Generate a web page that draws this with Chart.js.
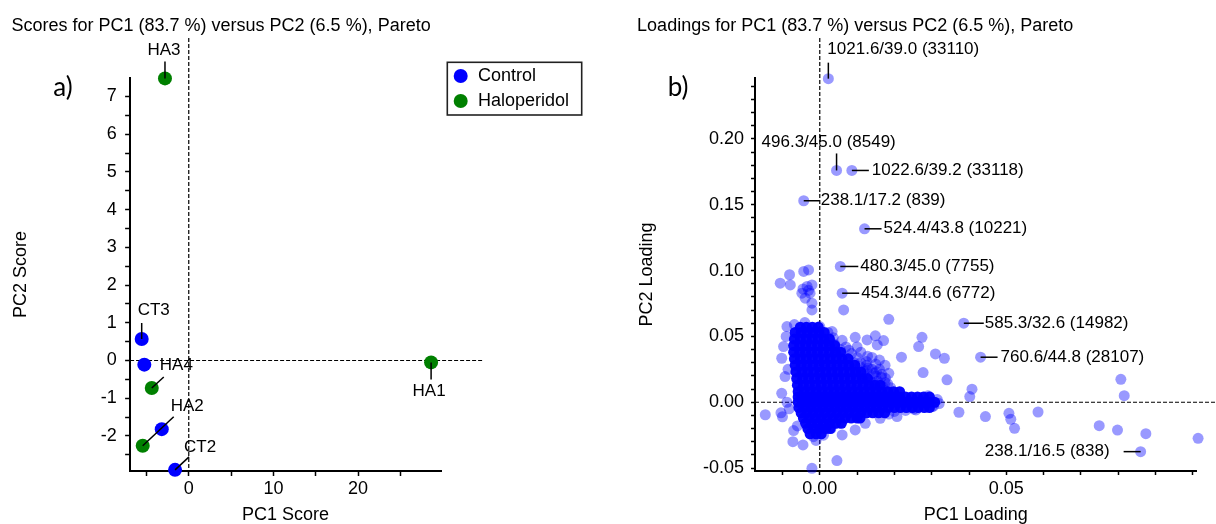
<!DOCTYPE html>
<html>
<head>
<meta charset="utf-8">
<script src="https://cdn.jsdelivr.net/npm/chart.js@4.4.1/dist/chart.umd.min.js"></script>
<style>
  html, body { margin: 0; padding: 0; background: #fff; }
  #wrap { position: relative; width: 1216px; height: 524px; overflow: hidden; background: #fff; }
  canvas { position: absolute; top: 0; }
  #scores { left: 0; }
  #loadings { left: 608px; }
</style>
</head>
<body>
<div id="wrap">
  <canvas id="scores" width="608" height="524"></canvas>
  <canvas id="loadings" width="608" height="524"></canvas>
</div>
<script>
// === Scores (panel a) ===
var controlNames = ['CT3', '', '', 'CT2'];
var controlPC1 = [-5.56, -5.25, -3.19, -1.62];
var controlPC2 = [0.57, -0.11, -1.82, -2.90];

var haloNames = ['HA3', 'HA4', 'HA2', 'HA1'];
var haloPC1 = [-2.81, -4.37, -5.44, 28.63];
var haloPC2 = [7.48, -0.73, -2.26, -0.05];

var scoreXTicks = [-5, 0, 5, 10, 15, 20, 25];
var scoreXLabels = [0, 10, 20];
var scoreYTicks = [-2.5, -2, -1.5, -1, -0.5, 0, 0.5, 1, 1.5, 2, 2.5, 3, 3.5, 4, 4.5, 5, 5.5, 6, 6.5, 7];
var scoreYLabels = [-2, -1, 0, 1, 2, 3, 4, 5, 6, 7];

// === Loadings (panel b) ===
var loadLabelText = ['1021.6/39.0 (33110)', '496.3/45.0 (8549)', '1022.6/39.2 (33118)', '238.1/17.2 (839)',
  '524.4/43.8 (10221)', '480.3/45.0 (7755)', '454.3/44.6 (6772)', '585.3/32.6 (14982)',
  '760.6/44.8 (28107)', '238.1/16.5 (838)'];
var loadLabelX = [0.0023, 0.0045, 0.0086, -0.0043, 0.0120, 0.0055, 0.0060, 0.0386, 0.0431, 0.0860];
var loadLabelY = [0.2457, 0.1760, 0.1760, 0.1530, 0.1317, 0.1031, 0.0828, 0.0600, 0.0342, -0.0375];

// scattered loadings around the dense core
var sparseLoadings = [
  [-0.0081, 0.0968], [-0.0106, 0.0904], [-0.0079, 0.0891], [-0.0043, 0.0993], [-0.0030, 0.1005],
  [-0.0034, 0.0879], [-0.0021, 0.0891], [-0.0048, 0.0828], [-0.0026, 0.0828], [-0.0039, 0.0790],
  [-0.0021, 0.0752], [-0.0021, 0.0701], [-0.0030, 0.0850], [-0.0045, 0.0860],
  [0.0064, 0.0701], [0.0185, 0.0630],
  [-0.0088, 0.0575], [-0.0068, 0.0590], [-0.0040, 0.0605], [0.0000, 0.0575], [0.0022, 0.0530],
  [0.0036, 0.0490], [0.0033, 0.0537], [0.0040, 0.0440], [0.0055, 0.0400],
  [0.0085, 0.0370], [0.0100, 0.0340], [0.0110, 0.0380], [0.0125, 0.0310], [0.0140, 0.0340],
  [0.0150, 0.0290], [0.0160, 0.0250], [0.0130, 0.0260], [0.0145, 0.0220], [0.0165, 0.0190],
  [0.0175, 0.0150], [0.0155, 0.0160], [0.0120, 0.0200], [0.0135, 0.0170], [0.0175, 0.0280],
  [0.0185, 0.0220], [0.0100, 0.0420], [0.0070, 0.0420], [0.0060, 0.0470],
  [0.0092, 0.0300], [0.0108, 0.0270], [0.0118, 0.0235], [0.0150, 0.0200], [0.0160, 0.0320],
  [0.0128, 0.0350], [0.0168, 0.0120], [0.0140, 0.0130], [0.0078, 0.0395],
  [0.0110, 0.0300], [0.0125, 0.0280], [0.0140, 0.0250], [0.0152, 0.0232], [0.0166, 0.0212],
  [0.0176, 0.0182], [0.0182, 0.0140], [0.0142, 0.0152], [0.0126, 0.0242], [0.0190, 0.0110],
  [0.0200, -0.0070], [0.0230, -0.0062], [0.0258, -0.0058], [0.0185, -0.0090],
  [0.0095, 0.0493], [0.0127, 0.0473], [0.0149, 0.0504], [0.0171, 0.0468], [0.0154, 0.0435],
  [0.0274, 0.0493], [0.0265, 0.0423], [0.0310, 0.0367], [0.0334, 0.0334], [0.0219, 0.0342],
  [0.0277, 0.0225], [0.0341, 0.0170], [0.0408, 0.0099], [0.0402, 0.0043], [0.0373, -0.0076],
  [0.0444, -0.0109],
  [0.0807, 0.0174], [0.0816, 0.0050], [0.0507, -0.0084], [0.0512, -0.0129], [0.0522, -0.0198],
  [0.0585, -0.0074], [0.0749, -0.0178], [0.0798, -0.0211], [0.0874, -0.0239], [0.1014, -0.0274],
  [-0.0146, -0.0095], [-0.0104, -0.0080], [-0.0100, -0.0110], [-0.0097, 0.0423], [-0.0102, 0.0334],
  [-0.0093, 0.0195], [-0.0102, 0.0068], [-0.0090, 0.0500], [-0.0085, 0.0250], [-0.0088, 0.0000],
  [-0.0082, -0.0050],
  [-0.0070, -0.0215], [-0.0072, -0.0299], [-0.0045, -0.0324], [-0.0017, -0.0261], [0.0046, -0.0443],
  [-0.0021, -0.0502], [0.0060, -0.0248], [0.0095, -0.0210], [0.0122, -0.0160], [0.0162, -0.0122],
  [0.0207, -0.0109], [0.0252, -0.0053], [0.0301, -0.0033],
  [-0.0060, -0.0180], [0.0030, -0.0200], [0.0050, -0.0160], [-0.0010, -0.0290], [0.0010, -0.0250],
  [0.0315, 0.0020], [0.0320, -0.0010], [0.0305, -0.0030], [0.0290, 0.0050]
];

// dense core, one row of PC1 loadings per PC2 level
var coreRowY = [0.057, 0.053, 0.048, 0.043, 0.038, 0.033, 0.028, 0.023, 0.018, 0.013, 0.008, 0.004, 0.000,
  -0.004, -0.008, -0.012, -0.016, -0.020, -0.024];
var coreRowX = [
  [-0.0052, -0.0036, -0.0020, -0.0004],
  [-0.0066, -0.0050, -0.0034, -0.0018, -0.0002, 0.0012],
  [-0.0068, -0.0052, -0.0036, -0.0020, -0.0004, 0.0012, 0.0026],
  [-0.0070, -0.0054, -0.0038, -0.0022, -0.0006, 0.0010, 0.0026, 0.0040],
  [-0.0070, -0.0054, -0.0038, -0.0022, -0.0006, 0.0010, 0.0026, 0.0042, 0.0056],
  [-0.0068, -0.0052, -0.0036, -0.0020, -0.0004, 0.0012, 0.0028, 0.0044, 0.0060, 0.0076],
  [-0.0066, -0.0050, -0.0034, -0.0018, -0.0002, 0.0014, 0.0030, 0.0046, 0.0062, 0.0078, 0.0094],
  [-0.0064, -0.0048, -0.0032, -0.0016, 0.0000, 0.0016, 0.0032, 0.0048, 0.0064, 0.0080, 0.0096, 0.0110],
  [-0.0062, -0.0046, -0.0030, -0.0014, 0.0002, 0.0018, 0.0034, 0.0050, 0.0066, 0.0082, 0.0098, 0.0114, 0.0128],
  [-0.0060, -0.0044, -0.0028, -0.0012, 0.0004, 0.0020, 0.0036, 0.0052, 0.0068, 0.0084, 0.0100, 0.0116, 0.0132, 0.0148, 0.0162],
  [-0.0058, -0.0042, -0.0026, -0.0010, 0.0006, 0.0022, 0.0038, 0.0054, 0.0070, 0.0086, 0.0102, 0.0118, 0.0134, 0.0150, 0.0166, 0.0182, 0.0198, 0.0214],
  [-0.0058, -0.0042, -0.0026, -0.0010, 0.0006, 0.0022, 0.0038, 0.0054, 0.0070, 0.0086, 0.0102, 0.0118, 0.0134, 0.0150, 0.0166, 0.0182, 0.0198, 0.0214, 0.0230, 0.0246, 0.0262, 0.0278, 0.0294],
  [-0.0058, -0.0042, -0.0026, -0.0010, 0.0006, 0.0022, 0.0038, 0.0054, 0.0070, 0.0086, 0.0102, 0.0118, 0.0134, 0.0150, 0.0166, 0.0182, 0.0198, 0.0214, 0.0230, 0.0246, 0.0262, 0.0278, 0.0294, 0.0308],
  [-0.0056, -0.0040, -0.0024, -0.0008, 0.0008, 0.0024, 0.0040, 0.0056, 0.0072, 0.0088, 0.0104, 0.0120, 0.0136, 0.0152, 0.0168, 0.0184, 0.0200, 0.0216, 0.0232, 0.0248, 0.0264, 0.0280, 0.0294],
  [-0.0050, -0.0034, -0.0018, -0.0002, 0.0014, 0.0030, 0.0046, 0.0062, 0.0078, 0.0094, 0.0110, 0.0126, 0.0142, 0.0158, 0.0174],
  [-0.0044, -0.0028, -0.0012, 0.0004, 0.0020, 0.0036, 0.0052, 0.0068, 0.0084, 0.0100, 0.0108],
  [-0.0038, -0.0022, -0.0006, 0.0010, 0.0026, 0.0042, 0.0058],
  [-0.0032, -0.0016, 0.0000, 0.0016, 0.0028],
  [-0.0026, -0.0010, 0.0004]
];

var loadXTicks = [-0.01, 0, 0.01, 0.02, 0.03, 0.04, 0.05, 0.06, 0.07, 0.08, 0.09, 0.10];
var loadXLabels = [0, 0.05];
var loadYTicks = [-0.05, -0.04, -0.03, -0.02, -0.01, 0, 0.01, 0.02, 0.03, 0.04, 0.05, 0.06, 0.07, 0.08, 0.09,
  0.10, 0.11, 0.12, 0.13, 0.14, 0.15, 0.16, 0.17, 0.18, 0.19, 0.20, 0.21, 0.22, 0.23, 0.24];
var loadYLabels = [-0.05, 0, 0.05, 0.10, 0.15, 0.20];

var FONT = '"Liberation Sans", Arial, sans-serif';

// label placement: leader end and text anchor, px from the point
var scoreLabelPos = {
  'HA3': { line: [0, -17], text: [-1, -28], align: 'center' },
  'CT3': { line: [0, -16], text: [-4, -29], align: 'left' },
  'HA4': { line: [12, -11], text: [8, -23], align: 'left' },
  'HA2': { line: [31, -29], text: [28, -39], align: 'left' },
  'CT2': { line: [14, -13], text: [9, -23], align: 'left' },
  'HA1': { line: [0, 17], text: [-2, 29], align: 'center' }
};
var loadLabelPos = {
  '1021.6/39.0 (33110)': { line: [0, -16], text: [-1, -29], align: 'left' },
  '496.3/45.0 (8549)': { line: [0, -17], text: [-75, -28], align: 'left' },
  '1022.6/39.2 (33118)': { line: [17, 0], text: [20, 0], align: 'left' },
  '238.1/17.2 (839)': { line: [16, 0], text: [17, 0], align: 'left' },
  '524.4/43.8 (10221)': { line: [17, 0], text: [19, 0], align: 'left' },
  '480.3/45.0 (7755)': { line: [18, 0], text: [20, 0], align: 'left' },
  '454.3/44.6 (6772)': { line: [17, 0], text: [19, 0], align: 'left' },
  '585.3/32.6 (14982)': { line: [20, 0], text: [21, 0], align: 'left' },
  '760.6/44.8 (28107)': { line: [17, 0], text: [20, 0], align: 'left' },
  '238.1/16.5 (838)': { line: [-17, 0], text: [-31, 0], align: 'right' }
};

function toPoints(xs, ys) {
  return xs.map(function(x, i) { return { x: x, y: ys[i] }; });
}

function corePoints() {
  var pts = [];
  coreRowY.forEach(function(y, r) {
    coreRowX[r].forEach(function(x) { pts.push({ x: x, y: y }); });
  });
  return pts;
}

function isLabelled(list, v) {
  return list.some(function(l) { return Math.abs(l - v) < 1e-9; });
}

function makeAxis(o) {
  return {
    type: 'linear',
    min: o.min,
    max: o.max,
    border: { display: true, color: '#000', width: 2 },
    grid: { display: true, drawOnChartArea: false, drawTicks: true, tickLength: o.tickLength,
            color: '#000', tickColor: '#000', tickWidth: 1.5 },
    afterBuildTicks: function(scale) {
      scale.ticks = o.ticks.map(function(v) { return { value: v }; });
    },
    ticks: {
      autoSkip: false, maxRotation: 0, minRotation: 0, padding: o.pad, color: '#000',
      font: { family: FONT, size: 18, lineHeight: 1.2 },
      callback: function(v) { return isLabelled(o.labels, v) ? o.fmt(v) : ''; }
    },
    title: { display: true, text: o.title, color: '#000',
             font: { family: FONT, size: 18, lineHeight: 1 }, padding: o.titlePad },
    afterFit: function(scale) {
      if (scale.isHorizontal()) scale.height = o.size;
      else scale.width = o.size;
    }
  };
}

// dashed zero lines, drawn under the points and running past the axes
var zeroLines = {
  id: 'zeroLines',
  beforeDatasetsDraw: function(chart, args, opts) {
    var ctx = chart.ctx, x = chart.scales.x, y = chart.scales.y, area = chart.chartArea;
    var x0 = x.getPixelForValue(0), y0 = y.getPixelForValue(0);
    ctx.save();
    ctx.strokeStyle = '#000';
    ctx.lineWidth = 1.2;
    ctx.setLineDash([4, 2]);
    ctx.beginPath();
    ctx.moveTo(x0, y.getPixelForValue(opts.yTop));
    ctx.lineTo(x0, area.bottom);
    ctx.moveTo(area.left, y0);
    ctx.lineTo(x.getPixelForValue(opts.xRight), y0);
    ctx.stroke();
    ctx.restore();
  }
};

var pointLabels = {
  id: 'pointLabels',
  afterDatasetsDraw: function(chart, args, opts) {
    var ctx = chart.ctx;
    ctx.save();
    ctx.font = opts.size + 'px ' + FONT;
    ctx.fillStyle = '#000';
    ctx.strokeStyle = '#000';
    ctx.lineWidth = 1.5;
    ctx.textBaseline = 'middle';
    chart.data.datasets.forEach(function(ds, di) {
      if (!ds.names) return;
      var meta = chart.getDatasetMeta(di);
      ds.names.forEach(function(name, i) {
        var pos = opts.positions[name];
        if (!name || !pos) return;
        var el = meta.data[i];
        ctx.beginPath();
        ctx.moveTo(el.x, el.y);
        ctx.lineTo(el.x + pos.line[0], el.y + pos.line[1]);
        ctx.stroke();
        ctx.textAlign = pos.align;
        ctx.fillText(name, el.x + pos.text[0], el.y + pos.text[1]);
      });
    });
    ctx.restore();
  }
};

var boxLegend = {
  id: 'boxLegend',
  afterDraw: function(chart, args, opts) {
    if (!opts.box) return;
    var ctx = chart.ctx, b = opts.box;
    ctx.save();
    ctx.strokeStyle = '#222';
    ctx.lineWidth = 1.6;
    ctx.strokeRect(b[0], b[1], b[2], b[3]);
    ctx.font = '18px ' + FONT;
    ctx.textBaseline = 'middle';
    ctx.textAlign = 'left';
    chart.data.datasets.forEach(function(ds, i) {
      var cy = opts.rows[i];
      ctx.fillStyle = ds.backgroundColor;
      ctx.beginPath();
      ctx.arc(opts.markerX, cy, opts.radius, 0, Math.PI * 2);
      ctx.fill();
      ctx.fillStyle = '#000';
      ctx.fillText(ds.label, opts.textX, cy);
    });
    ctx.restore();
  }
};

var panelLetter = {
  id: 'panelLetter',
  afterDraw: function(chart, args, opts) {
    var ctx = chart.ctx;
    ctx.save();
    ctx.font = '26px Lato, "Open Sans", sans-serif';
    ctx.fillStyle = '#000';
    ctx.textAlign = 'center';
    ctx.textBaseline = 'middle';
    ctx.fillText(opts.text, opts.x, opts.y);
    ctx.restore();
  }
};

function titleOpts(text) {
  return {
    display: true, text: text, align: 'start', color: '#000',
    font: { family: FONT, size: 18, weight: 'normal', lineHeight: 1.2 },
    padding: { top: 15.2, bottom: 41.2 }
  };
}

function pointStyle(color, radius) {
  return { backgroundColor: color, borderColor: color, pointBackgroundColor: color,
           pointBorderColor: 'rgba(0, 0, 0, 0)', borderWidth: 0, pointBorderWidth: 0,
           pointRadius: radius, pointHoverRadius: radius, pointHoverBorderWidth: 0, clip: false };
}

function withStyle(ds, style) {
  Object.keys(style).forEach(function(k) { ds[k] = style[k]; });
  return ds;
}

var scoresChart = new Chart(document.getElementById('scores'), {
  type: 'scatter',
  data: {
    datasets: [
      withStyle({ label: 'Control', data: toPoints(controlPC1, controlPC2), names: controlNames },
                pointStyle('#0000ff', 7)),
      withStyle({ label: 'Haloperidol', data: toPoints(haloPC1, haloPC2), names: haloNames },
                pointStyle('#008000', 7))
    ]
  },
  options: {
    responsive: false,
    animation: false,
    devicePixelRatio: 1,
    events: [],
    layout: { padding: { left: 11.5, right: 167, top: 0, bottom: 0 } },
    plugins: {
      legend: { display: false },
      tooltip: { enabled: false },
      title: titleOpts('Scores for PC1 (83.7 %) versus PC2 (6.5 %), Pareto'),
      zeroLines: { yTop: 8.55, xRight: 34.8 },
      pointLabels: { positions: scoreLabelPos, size: 17 },
      boxLegend: { box: [447.3, 62.3, 134.4, 52.7], rows: [76, 101], markerX: 460.7, textX: 478, radius: 7 },
      panelLetter: { text: 'a)', x: 63, y: 88 }
    },
    scales: {
      x: makeAxis({ min: -6.93, max: 29.8, ticks: scoreXTicks, labels: scoreXLabels,
                    fmt: function(v) { return String(v); }, title: 'PC1 Score', tickLength: 5, pad: 2,
                    titlePad: { bottom: 0 }, size: 53 }),
      y: makeAxis({ min: -2.93, max: 7.49, ticks: scoreYTicks, labels: scoreYLabels,
                    fmt: function(v) { return String(v); }, title: 'PC2 Score', tickLength: 5, pad: 8.4,
                    titlePad: { top: 0.5 }, size: 118.6 })
    }
  },
  plugins: [zeroLines, pointLabels, boxLegend, panelLetter]
});

var loadingsChart = new Chart(document.getElementById('loadings'), {
  type: 'scatter',
  data: {
    datasets: [
      withStyle({ label: 'Labelled', data: toPoints(loadLabelX, loadLabelY), names: loadLabelText },
                pointStyle('rgba(0, 0, 255, 0.4)', 5.5)),
      withStyle({ label: 'Loadings', data: sparseLoadings.map(function(p) { return { x: p[0], y: p[1] }; }) },
                pointStyle('rgba(0, 0, 255, 0.4)', 5.5)),
      withStyle({ label: 'Core', data: corePoints() },
                pointStyle('rgba(0, 0, 255, 0.97)', 5.5))
    ]
  },
  options: {
    responsive: false,
    animation: false,
    devicePixelRatio: 1,
    events: [],
    layout: { padding: { left: 29.1, right: 19.4, top: 0, bottom: 0 } },
    plugins: {
      legend: { display: false },
      tooltip: { enabled: false },
      title: titleOpts('Loadings for PC1 (83.7 %) versus PC2 (6.5 %), Pareto'),
      zeroLines: { yTop: 0.2766, xRight: 0.1065 },
      pointLabels: { positions: loadLabelPos, size: 17 },
      boxLegend: {},
      panelLetter: { text: 'b)', x: 70, y: 88 }
    },
    scales: {
      x: makeAxis({ min: -0.01736, max: 0.101, ticks: loadXTicks, labels: loadXLabels,
                    fmt: function(v) { return v.toFixed(2); }, title: 'PC1 Loading', tickLength: 4, pad: 3,
                    titlePad: { bottom: 0 }, size: 53 }),
      y: makeAxis({ min: -0.0522, max: 0.2462, ticks: loadYTicks, labels: loadYLabels,
                    fmt: function(v) { return v.toFixed(2); }, title: 'PC2 Loading', tickLength: 4, pad: 7,
                    titlePad: { top: 0.5 }, size: 117.9 })
    }
  },
  plugins: [zeroLines, pointLabels, boxLegend, panelLetter]
});
</script>
</body>
</html>
